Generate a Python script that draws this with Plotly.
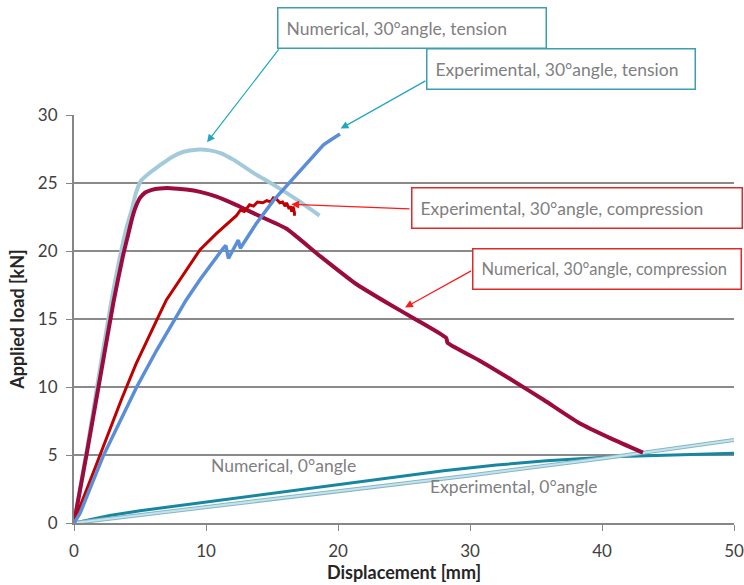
import plotly.graph_objects as go

# ---------------- data ----------------
num_ten_x = [0, 1, 2, 3, 4, 4.37, 4.7, 5.1, 5.8, 6.5, 7.4, 8.3, 9.3, 10.3, 11.1, 12.1, 13.5, 15.4, 17.0, 18.6]
num_ten_y = [0, 5.5, 11.5, 17.2, 21.8, 23.0, 24.3, 25.2, 25.8, 26.3, 26.9, 27.3, 27.45, 27.4, 27.2, 26.7, 25.8, 24.7, 23.7, 22.6]

num_comp_x = [0, 1, 2, 3, 3.7, 4.1, 4.4, 4.7, 5.0, 5.4, 5.9, 6.5, 7.3, 8.5, 9.55, 10.8, 12.15, 14.0, 16.07, 18.67, 21.29, 23.9,
              25.83, 28.2, 28.3, 30.8, 33.2, 35.6, 38.3, 40.7, 43.1]
num_comp_y = [0, 5.3, 10.8, 16.3, 19.6, 21.2, 22.4, 23.3, 23.9, 24.3, 24.5, 24.6, 24.62, 24.52, 24.35, 24.0, 23.45, 22.6, 21.65, 19.6, 17.63, 16.08,
              15.0, 13.6, 13.25, 11.9, 10.5, 9.04, 7.33, 6.2, 5.17]

exp_comp_x = [0, 0.45, 1.5, 2.5, 3.6, 4.7, 5.6, 6.5, 7.0, 8.03, 9.55, 10.8, 11.6, 12.3, 12.6, 12.9, 13.3, 13.6, 13.9,
              14.3, 14.6, 14.9, 15.1, 15.35, 15.6, 15.8, 16.0, 16.1, 16.3, 16.4, 16.5, 16.6, 16.7, 16.7]
exp_comp_y = [0, 1.2, 3.8, 6.35, 9.1, 11.7, 13.6, 15.4, 16.4, 17.9, 20.1, 21.3, 22.0, 22.6, 23.0, 22.9, 23.4, 23.3, 23.6,
              23.55, 23.7, 23.6, 23.9, 23.8, 23.55, 23.6, 23.3, 23.55, 23.1, 23.3, 22.9, 23.26, 22.8, 22.6]

exp_ten_x = [0, 0.45, 2.2, 3.5, 4.75, 6.26, 7.8, 8.5, 9.55, 10.5, 11.3, 11.5, 11.7, 12.0, 12.3, 12.45, 12.6, 13.0, 13.8,
             15.1, 16.4, 17.8, 18.9, 19.5, 20.15]
exp_ten_y = [0, 0.7, 4.9, 7.5, 10.0, 12.7, 15.2, 16.4, 17.9, 19.2, 20.2, 20.4, 19.45, 20.0, 20.56, 20.8, 20.2, 20.8, 22.0,
             23.7, 25.1, 26.6, 27.8, 28.2, 28.6]

num0_x = [0, 2.7, 5, 10, 14.1, 20, 23.2, 28, 32, 35.8, 40.8, 45, 50]
num0_y = [0, 0.55, 0.9, 1.55, 2.06, 2.85, 3.28, 3.85, 4.26, 4.58, 4.88, 5.0, 5.12]

exp0_x = [0, 10, 20, 30, 40, 50]
exp0_y = [0, 1.15, 2.3, 3.5, 4.75, 6.1]

x_ticks = [0, 10, 20, 30, 40, 50]
y_ticks = [0, 5, 10, 15, 20, 25, 30]

FONT = "Lato"
TXT = "#7f7f7f"

fig = go.Figure()
fig.add_trace(go.Scatter(x=num0_x, y=num0_y, mode="lines", line=dict(color="#17879f", width=3)))
fig.add_trace(go.Scatter(x=exp0_x, y=exp0_y, mode="lines", line=dict(color="#86b6c6", width=4)))
fig.add_trace(go.Scatter(x=exp0_x, y=exp0_y, mode="lines", line=dict(color="#c4e3ec", width=2)))
fig.add_trace(go.Scatter(x=num_ten_x, y=num_ten_y, mode="lines", line=dict(color="#a3cad9", width=4, shape="spline", smoothing=0.6)))
fig.add_trace(go.Scatter(x=num_comp_x, y=num_comp_y, mode="lines", line=dict(color="#9c0b3d", width=4, shape="spline", smoothing=0.5)))
fig.add_trace(go.Scatter(x=exp_comp_x, y=exp_comp_y, mode="lines", line=dict(color="#c00000", width=3)))
fig.add_trace(go.Scatter(x=exp_ten_x, y=exp_ten_y, mode="lines", line=dict(color="#5b8ed8", width=3.5)))

# text boxes (paper coords: centre positions)
boxes = [
    ("Numerical, 30°angle, tension", 0.5117, 1.2137, 251, 17.5, "#3d9eae"),
    ("Experimental, 30°angle, tension", 0.7383, 1.1120, 251, 17.5, "#3d9eae"),
    ("Experimental, 30°angle, compression", 0.7614, 0.7713, 313, 17.5, "#e02a2a"),
    ("Numerical, 30°angle, compression", 0.8080, 0.6218, 251, 16.5, "#e02a2a"),
]
for txt, bx, by, w, fs, col in boxes:
    fig.add_annotation(x=bx, y=by, xref="paper", yref="paper", text=txt, showarrow=False,
                       xanchor="center", yanchor="middle", align="left", valign="middle",
                       width=w, height=23, borderpad=8, bordercolor=col, borderwidth=1.5,
                       bgcolor="white", font=dict(family=FONT, size=fs, color=TXT))

arrows = [
    (10.08, 28.0, 15.6, 34.93, "#1fa6c0"),
    (20.2, 29.0, 26.74, 32.57, "#1fa6c0"),
    (16.46, 23.43, 25.53, 23.09, "#ff1a1a"),
    (25.08, 15.85, 30.2, 18.6, "#ff1a1a"),
]
for tx, ty, sx, sy, col in arrows:
    fig.add_annotation(x=tx, y=ty, xref="x", yref="y", ax=sx, ay=sy, axref="x", ayref="y",
                       text="", showarrow=True, arrowhead=2, arrowsize=1.3, arrowwidth=1.2,
                       arrowcolor=col, standoff=0, startstandoff=0)

fig.add_annotation(x=15.9, y=4.26, xref="x", yref="y", text="Numerical, 0°angle", showarrow=False,
                   font=dict(family=FONT, size=17.5, color=TXT))
fig.add_annotation(x=33.3, y=2.65, xref="x", yref="y", text="Experimental, 0°angle", showarrow=False,
                   font=dict(family=FONT, size=17.5, color=TXT))

fig.update_layout(
    width=744, height=585, showlegend=False, plot_bgcolor="white", paper_bgcolor="white",
    margin=dict(l=74, r=10, t=115, b=62),
    font=dict(family=FONT, size=17, color="#404040"),
    xaxis=dict(range=[0, 50], tickvals=x_ticks, showgrid=False, zeroline=False, showline=True,
               linecolor="#868686", linewidth=2, ticks="outside", ticklen=6, tickcolor="#868686",
               ticklabelstandoff=6, tickfont=dict(size=17, color="#404040"), automargin=False,
               title=dict(text="<b>Displacement [mm]</b>", font=dict(size=18, color="#262626"), standoff=2)),
    yaxis=dict(range=[0, 30], tickvals=y_ticks, showgrid=True, gridcolor="#8a8a8a", gridwidth=1.5,
               zeroline=False, showline=True, linecolor="#868686", linewidth=2, ticks="outside",
               ticklen=6, tickcolor="#868686", ticklabelstandoff=5, tickfont=dict(size=17, color="#404040"),
               automargin=False,
               title=dict(text="<b>Applied load [kN]</b>", font=dict(size=18, color="#262626"), standoff=9)),
)
fig.write_html("out.html")
